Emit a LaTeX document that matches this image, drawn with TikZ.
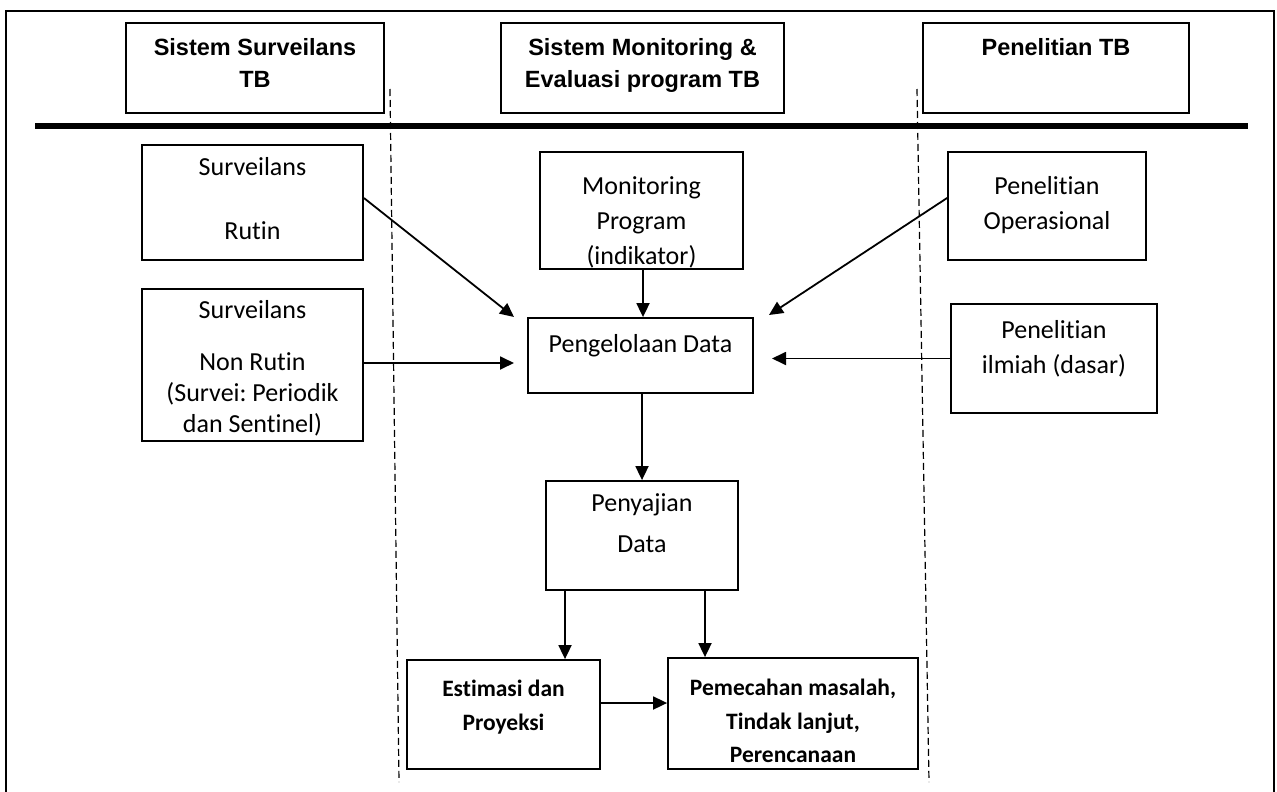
\documentclass[tikz,border=0pt]{standalone}
\usepackage{fontspec}
\setmainfont{Carlito}[Ligatures=NoCommon]
\newfontfamily\headfont{Liberation Sans}
\usetikzlibrary{arrows.meta,positioning}
\frenchspacing

\tikzset{
  box/.style={draw, line width=1.8pt, inner sep=0pt},
  txt/.style={anchor=north, align=center, inner sep=0pt, font=\fontsize{26}{35}\selectfont},
  headtxt/.style={anchor=north, align=center, inner sep=0pt, font=\headfont\bfseries\fontsize{23.5}{32}\selectfont},
  boldtxt/.style={anchor=north, align=center, inner sep=0pt, font=\bfseries\fontsize{23.5}{33.5}\selectfont},
  arr/.style={-{Triangle[length=14pt,width=13pt]}, line width=1.8pt},
  sep/.style={dash pattern=on 7pt off 4pt, line width=1.2pt}
}

\begin{document}
\begin{tikzpicture}[x=1pt,y=-1pt]
      \useasboundingbox (0,0) rectangle (1277,792);
      % frame and header rule
      \draw[line width=2.5pt] (6,800) -- (6,11) -- (1274,11) -- (1274,800);
      \draw[line width=6pt] (35,126) -- (1248,126);
      \draw[sep] (390,89) -- (399,782);
      \draw[sep] (917,89) -- (929,782);

      % header boxes
      \node[box, minimum width=258pt, minimum height=90pt] (survsys) at (255,68) {};
      \node[box, minimum width=283pt, minimum height=90pt] (monevsys) at (642.5,68) {};
      \node[box, minimum width=266pt, minimum height=90pt] (research) at (1056,68) {};
      \node[headtxt] (survsys-t) at (255,38) {Sistem Surveilans\\TB};
      \node[headtxt] (monevsys-t) at (642.5,38) {Sistem Monitoring \&\\Evaluasi program TB};
      \node[headtxt] (research-t) at (1056,38) {Penelitian TB};

      % boxes
      \node[box, minimum width=221pt, minimum height=115pt] (rutin) at (252.5,202.5) {};
      \node[box, minimum width=221pt, minimum height=152pt] (nonrutin) at (252.5,365) {};
      \node[box, minimum width=203pt, minimum height=117pt] (monitor) at (641.5,210.5) {};
      \node[box, minimum width=225pt, minimum height=75pt] (olah) at (640.5,355.5) {};
      \node[box, minimum width=198pt, minimum height=108pt] (operasi) at (1047,206) {};
      \node[box, minimum width=206pt, minimum height=109pt] (ilmiah) at (1054,358.5) {};
      \node[box, minimum width=192pt, minimum height=109pt] (saji) at (642,535.5) {};
      \node[box, minimum width=193pt, minimum height=109pt] (estimasi) at (503.5,714.5) {};
      \node[box, minimum width=250pt, minimum height=111pt] (solusi) at (793,713.5) {};

      \node[txt] (rutin-t) at (252.5,157) {Surveilans\\[29pt]Rutin};
      \node[txt, font=\fontsize{26}{31}\selectfont] (nonrutin-t) at (252.5,300)
            {Surveilans\\[21pt]Non Rutin\\(Survei: Periodik\\dan Sentinel)};
      \node[txt] (monitor-t) at (641.5,176) {Monitoring\\Program\\(indikator)};
      \node[txt] (olah-t) at (640.5,334) {Pengelolaan Data};
      \node[txt] (operasi-t) at (1047,176) {Penelitian\\Operasional};
      \node[txt] (ilmiah-t) at (1054,320) {Penelitian\\ilmiah (dasar)};
      \node[txt] (saji-t) at (642,493) {Penyajian\\[6pt]Data};
      \node[boldtxt] (estimasi-t) at (503.5,680) {Estimasi dan\\Proyeksi};
      \node[boldtxt] (solusi-t) at (793,679) {Pemecahan masalah,\\Tindak lanjut,\\Perencanaan};

      % connectors
      \coordinate (inA) at (514,317);
      \coordinate (inB) at (514,363);
      \coordinate (inC) at (769,315);
      \coordinate (inD) at (772,358.5);
      \draw[arr] ([yshift=4.5pt]rutin.east) -- (inA);
      \draw[arr] ([yshift=2pt]nonrutin.east) -- (inB);
      \draw[arr] ([yshift=8pt]operasi.west) -- (inC);
      \draw[arr] (ilmiah.west) -- (inD);
      \draw[arr] ([xshift=1.5pt]monitor.south) -- ([xshift=1.5pt]monitor.south |- olah.north);
      \draw[arr] ([xshift=1.5pt]olah.south) -- ([xshift=1.5pt]olah.south |- saji.north);
      \draw[arr] ([xshift=-77pt]saji.south) -- ([xshift=-77pt]saji.south |- estimasi.north);
      \draw[arr] ([xshift=63pt]saji.south) -- ([xshift=63pt]saji.south |- solusi.north);
      \draw[arr] ([yshift=11.5pt]estimasi.east) -- ([yshift=11.5pt]estimasi.east -| solusi.west);
\end{tikzpicture}
\end{document}
